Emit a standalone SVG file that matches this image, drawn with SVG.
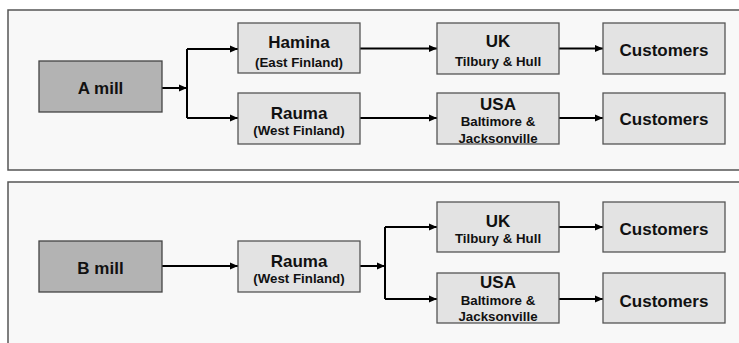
<svg xmlns="http://www.w3.org/2000/svg" width="739" height="343" viewBox="0 0 739 343">
<style>
.panel{fill:#f8f8f8;stroke:#555;stroke-width:1.5}
.mill{fill:#b3b3b3;stroke:#444;stroke-width:1.3}
.box{fill:#e3e3e3;stroke:#555;stroke-width:1.3}
text{font-family:"Liberation Sans",Arial,sans-serif;font-weight:bold;fill:#111;text-anchor:middle}
.t1{font-size:17px}
.t2{font-size:13.3px}
.c{fill:none;stroke:#000;stroke-width:2}
</style>
<defs>
<marker id="ah" markerUnits="userSpaceOnUse" markerWidth="9" markerHeight="8" refX="8" refY="4" orient="auto">
<path d="M0,0.5 L8,4 L0,7.5 z" fill="#000"/>
</marker>
</defs>
<rect width="739" height="343" fill="#fff"/>
<rect class="panel" x="8" y="10" width="740" height="160"/>
<rect class="panel" x="8" y="182" width="740" height="175"/>

<g id="connectors">
<path class="c" d="M162,88 H187" marker-end="url(#ah)"/>
<path class="c" d="M187,49 V118"/>
<path class="c" d="M187,49 H238" marker-end="url(#ah)"/>
<path class="c" d="M187,118 H238" marker-end="url(#ah)"/>
<path class="c" d="M360,48.5 H437" marker-end="url(#ah)"/>
<path class="c" d="M360,118 H437" marker-end="url(#ah)"/>
<path class="c" d="M559,48.5 H603" marker-end="url(#ah)"/>
<path class="c" d="M559,118 H603" marker-end="url(#ah)"/>
<path class="c" d="M162,266 H238" marker-end="url(#ah)"/>
<path class="c" d="M360,266 H385" marker-end="url(#ah)"/>
<path class="c" d="M385,227 V299"/>
<path class="c" d="M385,227 H437" marker-end="url(#ah)"/>
<path class="c" d="M385,299 H437" stroke-width="2.5" marker-end="url(#ah)"/>
<path class="c" d="M559,227 H603" marker-end="url(#ah)"/>
<path class="c" d="M559,299 H603" stroke-width="2.5" marker-end="url(#ah)"/>
</g>

<g id="amill"><rect class="mill" x="39" y="61" width="123" height="51"/><text class="t1" x="100.5" y="93.5">A mill</text></g>
<g id="hamina"><rect class="box" x="238" y="23" width="122" height="50"/><text class="t1" x="299" y="47.5">Hamina</text><text class="t2" x="299" y="66.5">(East Finland)</text></g>
<g id="rauma1"><rect class="box" x="238" y="93" width="122" height="51"/><text class="t1" x="299" y="119">Rauma</text><text class="t2" x="299" y="135">(West Finland)</text></g>
<g id="uk1"><rect class="box" x="437" y="23" width="122" height="51"/><text class="t1" x="498" y="47">UK</text><text class="t2" x="498" y="66">Tilbury &amp; Hull</text></g>
<g id="usa1"><rect class="box" x="437" y="93" width="122" height="51"/><text class="t1" x="498" y="110">USA</text><text class="t2" x="498" y="125.5">Baltimore &amp;</text><text class="t2" x="498" y="143">Jacksonville</text></g>
<g id="cust1"><rect class="box" x="603" y="23" width="122" height="51"/><text class="t1" x="664" y="55.5">Customers</text></g>
<g id="cust2"><rect class="box" x="603" y="93" width="122" height="51"/><text class="t1" x="664" y="124.5">Customers</text></g>

<g id="bmill"><rect class="mill" x="39" y="241" width="123" height="51"/><text class="t1" x="100.5" y="274">B mill</text></g>
<g id="rauma2"><rect class="box" x="238" y="241" width="122" height="51"/><text class="t1" x="299" y="267">Rauma</text><text class="t2" x="299" y="283">(West Finland)</text></g>
<g id="uk2"><rect class="box" x="437" y="202" width="122" height="50"/><text class="t1" x="498" y="227">UK</text><text class="t2" x="498" y="243">Tilbury &amp; Hull</text></g>
<g id="usa2"><rect class="box" x="437" y="273" width="122" height="50"/><text class="t1" x="498" y="288">USA</text><text class="t2" x="498" y="305">Baltimore &amp;</text><text class="t2" x="498" y="321">Jacksonville</text></g>
<g id="cust3"><rect class="box" x="603" y="202" width="122" height="50"/><text class="t1" x="664" y="235">Customers</text></g>
<g id="cust4"><rect class="box" x="603" y="273" width="122" height="50"/><text class="t1" x="664" y="306.5">Customers</text></g>
</svg>
